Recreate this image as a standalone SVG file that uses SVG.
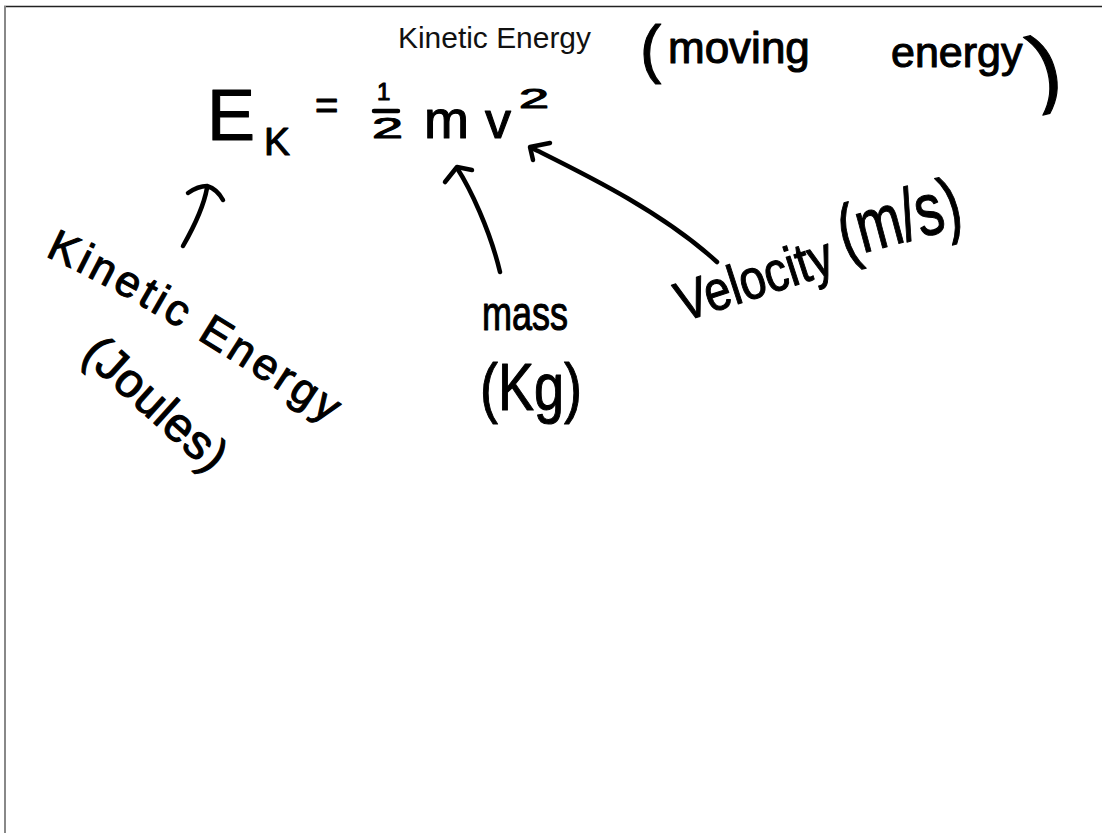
<svg xmlns="http://www.w3.org/2000/svg" width="1102" height="833" viewBox="0 0 1102 833">
<style>
.hw{font-family:"Liberation Sans",Arial,sans-serif;fill:#000;stroke:#000;stroke-width:1.1;stroke-linejoin:round}
.title{font-family:"Liberation Sans",Arial,sans-serif;font-size:29px;fill:#111}
.ink{fill:none;stroke:#000;stroke-width:4.5;stroke-linecap:round;stroke-linejoin:round}
</style>
<rect x="0" y="0" width="1102" height="833" fill="#fff"/>
<g id="frame">
<path d="M4 6.5H1102" stroke="#222" stroke-width="1.5" fill="none"/>
<path d="M5 6V833" stroke="#888" stroke-width="2" fill="none"/>
</g>
<g id="title">
<text class="title" x="398" y="48" textLength="193" lengthAdjust="spacingAndGlyphs">Kinetic Energy</text>
</g>
<g id="formula">
<text class="hw" x="207" y="140" font-size="72">E</text>
<text class="hw" x="264" y="155" font-size="39">K</text>
<text class="hw" x="315" y="119" font-size="40">=</text>
<text class="hw" x="377" y="100" font-size="24">1</text>
<path class="ink" d="M374 111H398"/>
<text class="hw" x="372" y="138" font-size="30" textLength="31" lengthAdjust="spacingAndGlyphs">2</text>
<text class="hw" x="424" y="138" font-size="54">m</text>
<text class="hw" x="485" y="138" font-size="52">v</text>
<text class="hw" x="519" y="108" font-size="28" textLength="30" lengthAdjust="spacingAndGlyphs">2</text>
</g>
<g id="moving-energy">
<text class="hw"><tspan x="640" y="71" font-size="64">(</tspan><tspan x="668" y="63" font-size="44">moving</tspan><tspan x="891" y="67" font-size="43">energy</tspan><tspan x="1038" y="98" font-size="86" rotate="-14">)</tspan></text>
</g>
<g id="kinetic-energy-label">
<defs><path id="kePath" d="M45 256C120 290 220 350 335 428"/></defs>
<text class="hw" font-size="44"><textPath href="#kePath" textLength="330" lengthAdjust="spacing">Kinetic Energy</textPath></text>
<text class="hw" x="80" y="357" font-size="48" transform="rotate(42 80 357)" textLength="175" lengthAdjust="spacing">(Joules)</text>
</g>
<g id="mass-label">
<text class="hw" x="482" y="330" font-size="48" textLength="86" lengthAdjust="spacingAndGlyphs">mass</text>
<text class="hw" x="480" y="410" font-size="66" textLength="102" lengthAdjust="spacingAndGlyphs">(Kg)</text>
</g>
<g id="velocity-label">
<text class="hw" x="683" y="322" font-size="56" transform="rotate(-18 683 322)" textLength="162" lengthAdjust="spacingAndGlyphs">Velocity</text>
<text class="hw" x="845" y="258" font-size="74" transform="rotate(-15 845 258)" textLength="125" lengthAdjust="spacingAndGlyphs">(m/s)</text>
</g>
<g id="connectors">
<path class="ink" d="M183 246C195 225 204 205 207 188"/>
<path class="ink" d="M188 193Q198 186 207 186Q217 189 223 200"/>
<path class="ink" d="M500 272C490 230 470 188 457 168"/>
<path class="ink" d="M445 182L457 167L472 170"/>
<path class="ink" d="M717 262C660 210 580 172 532 148"/>
<path class="ink" d="M533 160L530 147L550 143"/>
</g>
</svg>
